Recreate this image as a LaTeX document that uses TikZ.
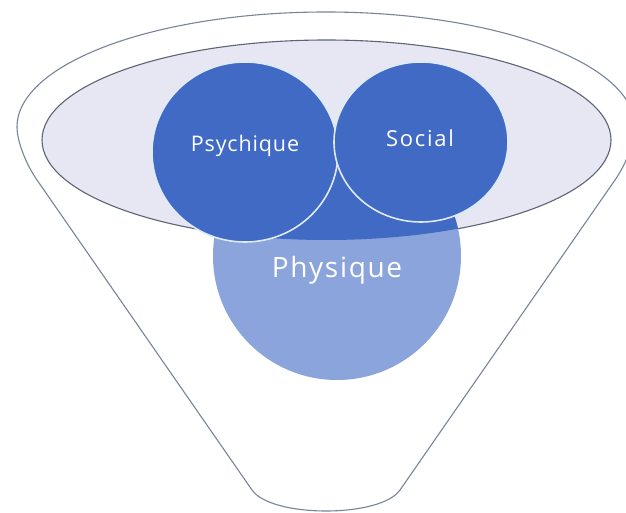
\documentclass[tikz,border=0pt]{standalone}
\usepackage{fontspec}
\setmainfont{Open Sans}
\definecolor{rimfill}{RGB}{230,231,243}
\definecolor{rimline}{RGB}{92,100,118}
\definecolor{funline}{RGB}{122,132,152}
\definecolor{darkblue}{RGB}{64,106,196}
\definecolor{lightblue}{RGB}{139,164,219}
\definecolor{circline}{RGB}{222,235,247}
\begin{document}
\begin{tikzpicture}[x=1pt,y=-1pt,
  funnelline/.style={draw=funline,line width=1.1pt,line join=round},
  rimstyle/.style={draw=rimline,line width=1.1pt},
  circstyle/.style={fill=darkblue,draw=circline,line width=1.6pt},
  lbl/.style={text=white,inner sep=0pt}]
\useasboundingbox (0,0) rectangle (626,513);
\clip (0,0) rectangle (626,513);
\fill[white] (0,0) rectangle (626,513);
% outer funnel
\draw[funnelline,fill=white] (17,127) .. controls (17,142) and (26.6,165) .. (37,180)
  -- (252,490) .. controls (271.4,518) and (380.6,518) .. (400,490)
  -- (615,180) .. controls (625.4,165) and (635,142) .. (635,127)
  arc[start angle=0,end angle=180,x radius=309pt,y radius=115pt] -- cycle;
% inner rim
\fill[rimfill] (326.5,140) ellipse[x radius=284.5pt,y radius=100pt];
\draw[rimstyle] (326.5,140) ellipse[x radius=284.5pt,y radius=100pt];
% Physique
\fill[lightblue] (337,256) circle[radius=124pt];
\begin{scope}
  \clip (326.5,140) ellipse[x radius=284.5pt,y radius=100pt];
  \fill[darkblue] (337,256) circle[radius=124pt];
\end{scope}
% Psychique and Social
\path[circstyle] (245,152) ellipse[x radius=93pt,y radius=90pt];
\path[circstyle] (421,142) ellipse[x radius=87pt,y radius=80pt];
% labels
\node[lbl,font=\fontsize{21.5}{25}\selectfont\addfontfeatures{LetterSpace=4}] (tpsy) at (245,146) {Psychique};
\node[lbl,font=\fontsize{22}{25}\selectfont\addfontfeatures{LetterSpace=8}] (tsoc) at (420,138) {Social};
\node[lbl,font=\fontsize{28}{32}\selectfont\addfontfeatures{LetterSpace=6}] (tphy) at (337,270) {Physique};
\end{tikzpicture}
\end{document}
